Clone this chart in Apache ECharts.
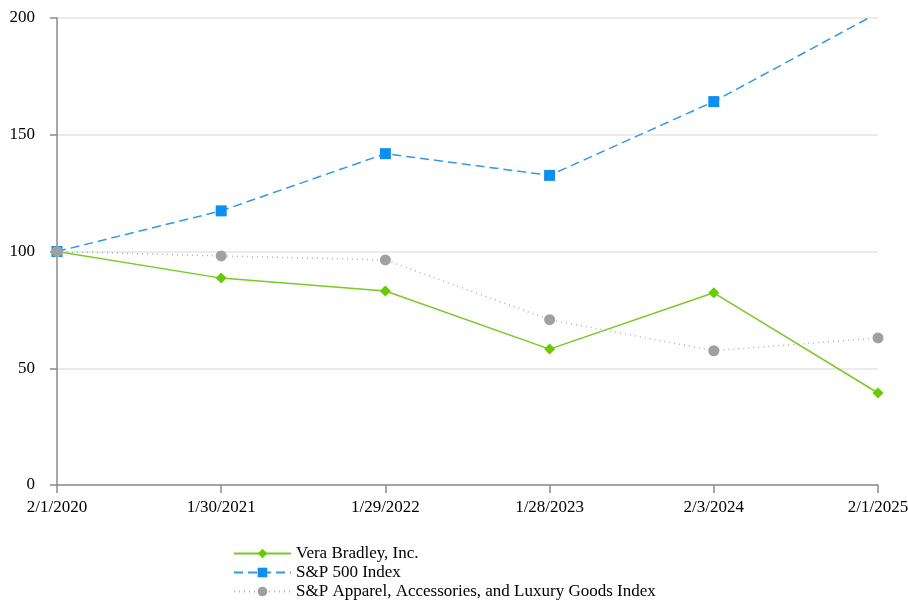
<!DOCTYPE html>
<html>
<head>
<meta charset="utf-8">
<script src="https://cdn.jsdelivr.net/npm/echarts@6/dist/echarts.min.js"></script>
<style>
  html, body { margin: 0; padding: 0; background: #fff; }
  #box { width: 908px; height: 600px; }
</style>
</head>
<body>
<div id="box"></div>
<script>
var dates = ['2/1/2020', '1/30/2021', '1/29/2022', '1/28/2023', '2/3/2024', '2/1/2025'];
var veraBradley = [100, 88.6, 83.1, 58.2, 82.3, 39.4];
var sp500 = [100, 117.4, 141.9, 132.6, 164.2, 202.2];
var spApparel = [100, 98.1, 96.4, 70.8, 57.5, 63.0];

var chart = echarts.init(document.getElementById('box'));
var font = '"Liberation Serif", "Times New Roman", serif';

var option = {
    animation: false,
    textStyle: { fontFamily: font },
    grid: { left: 57, right: 30, top: 18, bottom: 115, containLabel: false, outerBoundsMode: 'none' },
    legend: {
        orient: 'vertical',
        left: 233,
        top: 545,
        height: 90,
        padding: 0,
        itemGap: 2,
        itemWidth: 57,
        itemHeight: 12,
        textStyle: { fontFamily: font, fontSize: 17, color: '#000' },
        data: ['Vera Bradley, Inc.', 'S&P 500 Index', 'S&P Apparel, Accessories, and Luxury Goods Index']
    },
    xAxis: {
        type: 'category',
        data: dates,
        boundaryGap: false,
        axisLine: { lineStyle: { color: '#8c8c8c', width: 1.5 } },
        axisTick: { show: true, length: 8, alignWithLabel: true, lineStyle: { color: '#8c8c8c', width: 1.5 } },
        axisLabel: { color: '#000', fontSize: 17, fontFamily: font, margin: 14 },
        splitLine: { show: false }
    },
    yAxis: {
        type: 'value',
        min: 0,
        max: 200,
        interval: 50,
        axisLine: { show: true, lineStyle: { color: '#8c8c8c', width: 1.5 } },
        axisTick: { show: true, length: 7, lineStyle: { color: '#8c8c8c', width: 1.5 } },
        axisLabel: { color: '#000', fontSize: 17, fontFamily: font, margin: 22 },
        splitLine: { lineStyle: { color: '#e4e4e4', width: 1.5 } }
    },
    series: [
        {
            name: 'Vera Bradley, Inc.',
            type: 'line',
            data: veraBradley,
            symbol: 'diamond',
            symbolSize: 11,
            clip: false,
            z: 4,
            itemStyle: { color: '#66cc00' },
            lineStyle: { color: '#77cc22', width: 1.5, type: 'solid' }
        },
        {
            name: 'S&P 500 Index',
            type: 'line',
            data: sp500,
            symbol: 'rect',
            symbolSize: 11,
            clip: true,
            z: 3,
            itemStyle: { color: '#0a8ff5' },
            lineStyle: { color: '#2e9be6', width: 1.5, type: [9, 5] }
        },
        {
            name: 'S&P Apparel, Accessories, and Luxury Goods Index',
            type: 'line',
            data: spApparel,
            symbol: 'circle',
            symbolSize: 11,
            clip: false,
            z: 5,
            itemStyle: { color: '#a0a0a0' },
            lineStyle: { color: '#b0b0b0', width: 1.5, type: [1, 4] }
        }
    ]
};

chart.setOption(option);
</script>
</body>
</html>
